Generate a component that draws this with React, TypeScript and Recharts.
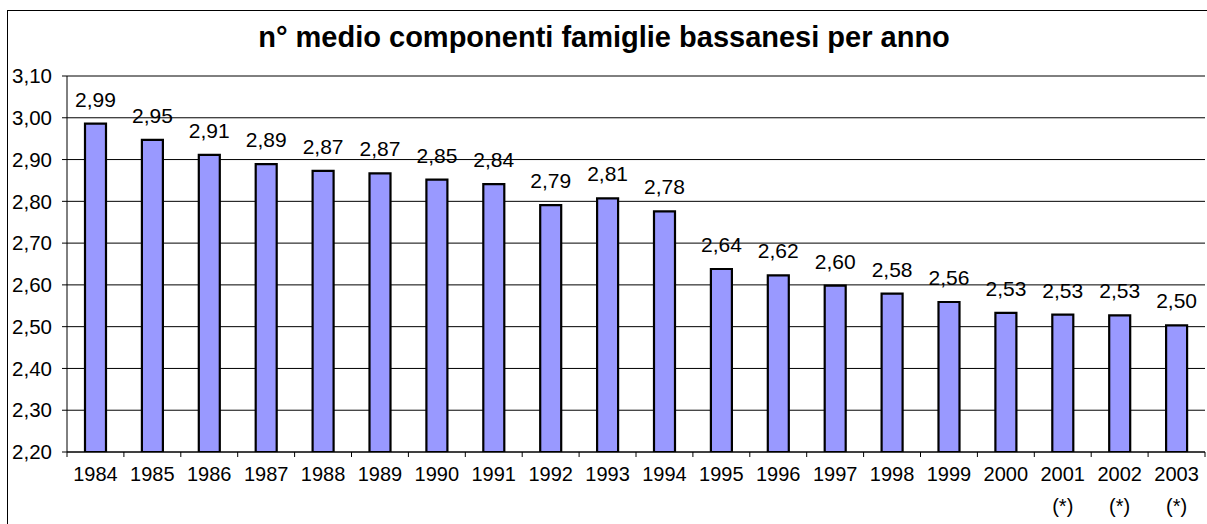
import React from 'react';
import { BarChart, Bar, XAxis, YAxis, CartesianGrid, LabelList } from 'recharts';

const TITLE = 'n° medio componenti famiglie bassanesi per anno';
const years = ['1984', '1985', '1986', '1987', '1988', '1989', '1990', '1991', '1992', '1993', '1994', '1995', '1996', '1997', '1998', '1999', '2000', '2001', '2002', '2003'];
const notes = ['', '', '', '', '', '', '', '', '', '', '', '', '', '', '', '', '', '(*)', '(*)', '(*)'];
const avgMembers = [2.986, 2.947, 2.911, 2.889, 2.873, 2.867, 2.852, 2.841, 2.791, 2.807, 2.776, 2.638, 2.623, 2.598, 2.579, 2.559, 2.533, 2.529, 2.527, 2.503];
const yTicks = [2.2, 2.3, 2.4, 2.5, 2.6, 2.7, 2.8, 2.9, 3.0, 3.1];

const data = years.map((y, i) => ({ year: y, note: notes[i], value: avgMembers[i] }));

const fmt = (v: number) => Number(v).toFixed(2).replace('.', ',');
const FONT = '"Liberation Sans", Arial, sans-serif';

const XTick = (props: any) => {
  const { x, y, payload, index } = props;
  const half = payload && typeof payload.offset === 'number' && payload.offset > 0 ? payload.offset : 28.45;
  const axisY = y - 5;
  const note = notes[index] || '';
  return (
    <g>
      <line x1={x - half} x2={x - half} y1={axisY} y2={axisY + 5} stroke="#000" strokeWidth={1} />
      {index === years.length - 1 ? (
        <line x1={x + half} x2={x + half} y1={axisY} y2={axisY + 5} stroke="#000" strokeWidth={1} />
      ) : null}
      <text x={x} y={axisY + 29} textAnchor="middle" fontSize={20} fill="#000" fontFamily={FONT}>
        {payload.value}
      </text>
      {note ? (
        <text x={x} y={axisY + 61} textAnchor="middle" fontSize={20} fill="#000" fontFamily={FONT}>
          {note}
        </text>
      ) : null}
    </g>
  );
};

export default function App() {
  return (
    <div style={{ position: 'absolute', left: 0, top: 0, width: 1207, height: 524, overflow: 'hidden', background: '#fff', fontFamily: FONT }}>
      <div style={{ position: 'absolute', left: 7, top: 10, width: 1400, height: 700, border: '1.5px solid #000', boxSizing: 'border-box' }} />
      <BarChart
        width={1207}
        height={524}
        data={data}
        margin={{ top: 76, right: 2, left: 7, bottom: 0 }}
        barCategoryGap={0}
        style={{ position: 'absolute', left: 0, top: 0 }}
      >
        <CartesianGrid vertical={false} stroke="#000" strokeWidth={1} />
        <XAxis
          dataKey="year"
          xAxisId={0}
          height={72}
          axisLine={{ stroke: '#000', strokeWidth: 1 }}
          tickLine={false}
          tickSize={5}
          tickMargin={0}
          interval={0}
          tick={<XTick />}
        />
        <XAxis dataKey="year" xAxisId="top" orientation="top" height={0} axisLine={{ stroke: '#808080', strokeWidth: 2 }} tick={false} tickLine={false} />
        <YAxis
          yAxisId={0}
          domain={[2.2, 3.1]}
          ticks={yTicks}
          width={60}
          interval={0}
          axisLine={{ stroke: '#000', strokeWidth: 1 }}
          tickLine={{ stroke: '#000', strokeWidth: 1 }}
          tickSize={5}
          tickMargin={10}
          tickFormatter={fmt}
          tick={{ fontSize: 20.5, fill: '#000', fontFamily: FONT }}
          allowDataOverflow
        />
        <YAxis yAxisId="right" orientation="right" domain={[2.2, 3.1]} width={0} axisLine={{ stroke: '#808080', strokeWidth: 2 }} tick={false} tickLine={false} />
        <Bar dataKey="value" xAxisId={0} yAxisId={0} fill="#9999FF" stroke="#000" strokeWidth={2.2} barSize={21} isAnimationActive={false}>
          <LabelList dataKey="value" position="top" offset={17} formatter={(v: any) => fmt(v)} style={{ fontSize: 21, fill: '#000', fontFamily: FONT }} />
        </Bar>
      </BarChart>
      <svg width={1207} height={70} style={{ position: 'absolute', left: 0, top: 0, pointerEvents: 'none' }}>
        <text x={604} y={47} textAnchor="middle" fontSize={29} fontWeight="bold" fill="#000" fontFamily={FONT}>
          {TITLE}
        </text>
      </svg>
    </div>
  );
}
